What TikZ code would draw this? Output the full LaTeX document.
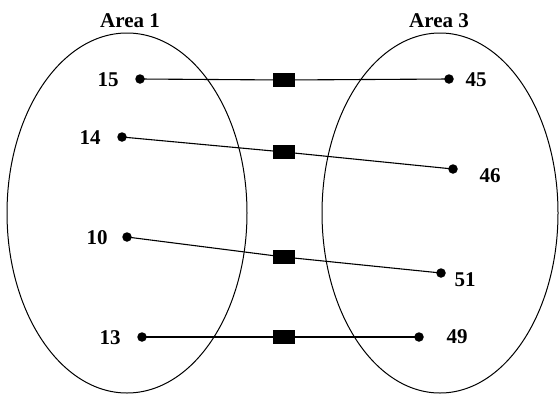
\documentclass[tikz,border=0pt]{standalone}
\usepackage{fontspec}
\setmainfont{Liberation Serif}
\begin{document}
\begin{tikzpicture}[x=1pt,y=-1pt,
  dot/.style={circle,fill=black,inner sep=0pt,minimum size=9.5pt},
  blk/.style={rectangle,fill=black,inner sep=0pt,minimum width=22pt,minimum height=14pt},
  lbl/.style={font=\bfseries\fontsize{21}{24}\selectfont,inner sep=0pt},
  area/.style={draw,line width=1pt},
  link/.style={line width=1.1pt}]
\useasboundingbox (0,0) rectangle (559,394);
\draw[area] (127,213) ellipse [x radius=120, y radius=180];
\draw[area] (440,213) ellipse [x radius=118, y radius=180];
\node[lbl] (a1) at (130,21) {Area 1};
\node[lbl] (a3) at (439,21) {Area 3};
% left dots
\node[dot] (d15) at (140,79) {};
\node[dot] (d14) at (122,137) {};
\node[dot] (d10) at (127,237) {};
\node[dot] (d13) at (142,337) {};
% right dots
\node[dot] (d45) at (449,79) {};
\node[dot] (d46) at (453,169) {};
\node[dot] (d51) at (441,273) {};
\node[dot] (d49) at (419,337) {};
% squares
\node[blk] (s1) at (284,80) {};
\node[blk] (s2) at (284,152) {};
\node[blk] (s3) at (284,257) {};
\node[blk] (s4) at (284,337) {};
% labels
\node[lbl] (l15) at (108,80) {15};
\node[lbl] (l14) at (90,138) {14};
\node[lbl] (l10) at (97,238) {10};
\node[lbl] (l13) at (110,338) {13};
\node[lbl] (l45) at (476,80) {45};
\node[lbl] (l46) at (490,176) {46};
\node[lbl] (l51) at (465,280) {51};
\node[lbl] (l49) at (457,337) {49};
% links
\draw[link] (d15.center) -- (s1.center) -- (d45.center);
\draw[link] (d14.center) -- (s2.center) -- (d46.center);
\draw[link] (d10.center) -- (s3.center) -- (d51.center);
\draw[link] (d13.center) -- (s4.center) -- (d49.center);
\end{tikzpicture}
\end{document}
